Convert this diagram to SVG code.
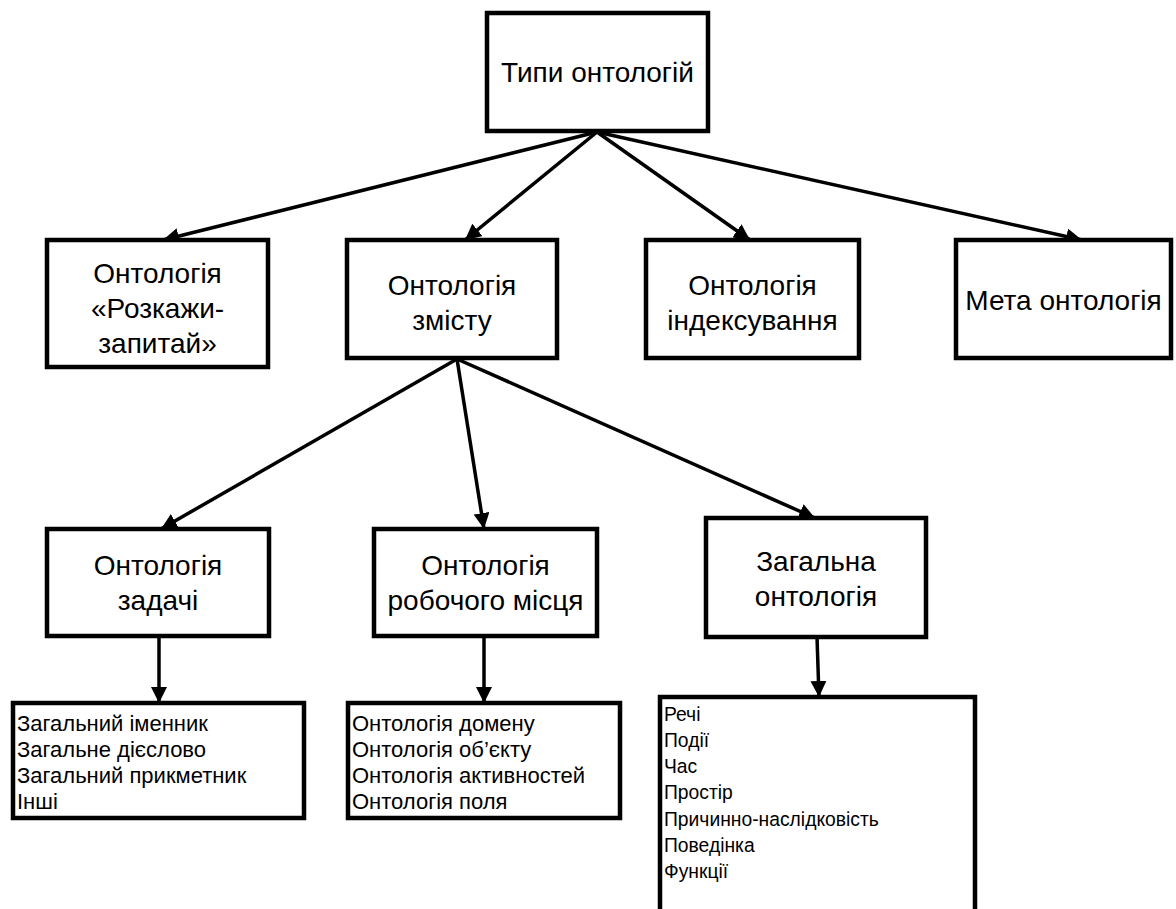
<svg xmlns="http://www.w3.org/2000/svg" width="1176" height="909" viewBox="0 0 1176 909">
<style>
.box{fill:#fff;stroke:#000;stroke-width:4.5}
.big{font-family:"Liberation Sans","Noto Sans",sans-serif;font-size:28px;fill:#000;text-anchor:middle}
.sm{font-family:"Liberation Sans","Noto Sans",sans-serif;font-size:22px;fill:#000}
.xs{font-family:"Liberation Sans","Noto Sans",sans-serif;font-size:19.3px;fill:#000}
.c{fill:none;stroke:#000;stroke-width:3.5}
</style>
<defs>
<marker id="ah" markerUnits="userSpaceOnUse" markerWidth="18" markerHeight="16" refX="16" refY="8" orient="auto">
<path d="M0,0 L16,8 L0,16 Z" fill="#000"/>
</marker>
</defs>
<rect width="1176" height="909" fill="#fff"/>
<g id="connectors">
<line class="c" x1="597" y1="132" x2="163" y2="240" marker-end="url(#ah)"/>
<line class="c" x1="597" y1="132" x2="465" y2="240" marker-end="url(#ah)"/>
<line class="c" x1="597" y1="132" x2="750" y2="240" marker-end="url(#ah)"/>
<line class="c" x1="597" y1="132" x2="1082" y2="240" marker-end="url(#ah)"/>
<line class="c" x1="457" y1="359" x2="161" y2="529" marker-end="url(#ah)"/>
<line class="c" x1="457" y1="359" x2="484" y2="529" marker-end="url(#ah)"/>
<line class="c" x1="457" y1="359" x2="815" y2="518" marker-end="url(#ah)"/>
<line class="c" x1="159" y1="636" x2="159" y2="703" marker-end="url(#ah)"/>
<line class="c" x1="484" y1="636" x2="484" y2="703" marker-end="url(#ah)"/>
<line class="c" x1="817" y1="637" x2="819" y2="697" marker-end="url(#ah)"/>
</g>
<g id="root">
<rect class="box" x="487" y="13" width="221" height="118"/>
<text class="big" x="597.5" y="82">Типи онтологій</text>
</g>
<g id="tell-ask">
<rect class="box" x="47" y="240" width="221" height="127"/>
<text class="big" x="157.5" y="283">Онтологія</text>
<text class="big" x="157.5" y="318">«Розкажи-</text>
<text class="big" x="157.5" y="353">запитай»</text>
</g>
<g id="content">
<rect class="box" x="347" y="240" width="210" height="118"/>
<text class="big" x="452" y="295">Онтологія</text>
<text class="big" x="452" y="330">змісту</text>
</g>
<g id="indexing">
<rect class="box" x="646" y="240" width="213" height="118"/>
<text class="big" x="752.5" y="295">Онтологія</text>
<text class="big" x="752.5" y="330">індексування</text>
</g>
<g id="meta">
<rect class="box" x="956" y="240" width="215" height="118"/>
<text class="big" x="1063.5" y="310">Мета онтологія</text>
</g>
<g id="task">
<rect class="box" x="47" y="529" width="222" height="107"/>
<text class="big" x="158" y="575">Онтологія</text>
<text class="big" x="158" y="610">задачі</text>
</g>
<g id="workplace">
<rect class="box" x="374" y="529" width="223" height="107"/>
<text class="big" x="485.5" y="575">Онтологія</text>
<text class="big" x="485.5" y="610">робочого місця</text>
</g>
<g id="general">
<rect class="box" x="706" y="518" width="220" height="119"/>
<text class="big" x="816" y="571">Загальна</text>
<text class="big" x="816" y="606">онтологія</text>
</g>
<g id="task-list">
<rect class="box" x="13" y="703" width="291" height="115"/>
<text class="sm" x="17" y="731">Загальний іменник</text>
<text class="sm" x="17" y="757">Загальне дієслово</text>
<text class="sm" x="17" y="783">Загальний прикметник</text>
<text class="sm" x="17" y="809">Інші</text>
</g>
<g id="workplace-list">
<rect class="box" x="348" y="703" width="272" height="115"/>
<text class="sm" x="352" y="731">Онтологія домену</text>
<text class="sm" x="352" y="757">Онтологія об’єкту</text>
<text class="sm" x="352" y="783">Онтологія активностей</text>
<text class="sm" x="352" y="809">Онтологія поля</text>
</g>
<g id="general-list">
<rect class="box" x="660" y="697" width="315" height="220"/>
<text class="xs" x="664" y="721">Речі</text>
<text class="xs" x="664" y="747">Події</text>
<text class="xs" x="664" y="773">Час</text>
<text class="xs" x="664" y="799">Простір</text>
<text class="xs" x="664" y="826">Причинно-наслідковість</text>
<text class="xs" x="664" y="852">Поведінка</text>
<text class="xs" x="664" y="878">Функції</text>
</g>
</svg>
